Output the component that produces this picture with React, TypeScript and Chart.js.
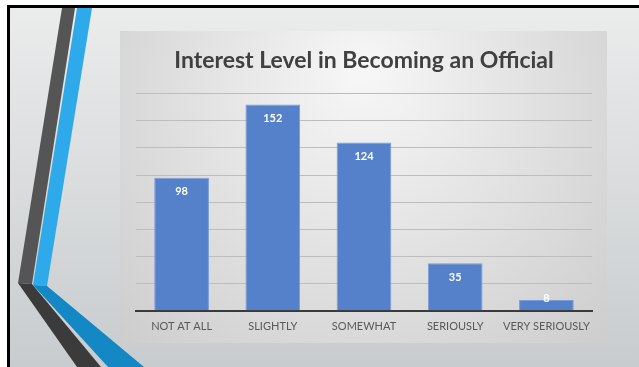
import React, { useEffect, useRef } from "react";
import { Chart, registerables } from "chart.js";

Chart.register(...registerables);

const categories = ["NOT AT ALL", "SLIGHTLY", "SOMEWHAT", "SERIOUSLY", "VERY SERIOUSLY"];
const values = [98, 152, 124, 35, 8];
const titleText = "Interest Level in Becoming an Official";
const yMax = 160;
const yStep = 20;

const W = 639;
const H = 367;

const backgroundPlugin = {
  id: "slideBackground",
  beforeDraw(chart: any) {
    const ctx = chart.ctx;
    ctx.save();
    ctx.fillStyle = "#ffffff";
    ctx.fillRect(0, 0, W, H);
    const g = ctx.createLinearGradient(0, 7, 0, H);
    g.addColorStop(0, "#ebecec");
    g.addColorStop(1, "#c8ccce");
    ctx.fillStyle = g;
    ctx.fillRect(9, 7, W - 9, H - 7);
    ctx.fillStyle = "#000000";
    ctx.fillRect(7, 5, W - 7, 3);
    ctx.fillRect(7, 5, 3, H - 5);

    const poly = (pts: number[][], color: string) => {
      ctx.beginPath();
      ctx.moveTo(pts[0][0], pts[0][1]);
      for (let i = 1; i < pts.length; i++) ctx.lineTo(pts[i][0], pts[i][1]);
      ctx.closePath();
      ctx.fillStyle = color;
      ctx.fill();
    };
    poly([[62, 8], [75, 8], [32, 284], [18, 283]], "#555555");
    poly([[18, 283], [32, 284], [101, H], [77, H]], "#3b3b3b");
    poly([[77, 8], [92, 8], [47, 286], [33, 285]], "#2eaaea");
    poly([[33, 285], [47, 286], [144, H], [108, H]], "#1487c5");

    const bx = 120, by = 31, bw = 487, bh = 312;
    const rg = ctx.createRadialGradient(363, 70, 10, 363, 120, 330);
    rg.addColorStop(0, "#f6f6f6");
    rg.addColorStop(1, "#cdcdcd");
    ctx.fillStyle = rg;
    ctx.fillRect(bx, by, bw, bh);
    ctx.restore();
  },
};

const labelPlugin = {
  id: "barLabels",
  afterDatasetsDraw(chart: any) {
    const ctx = chart.ctx;
    const meta = chart.getDatasetMeta(0);
    ctx.save();
    ctx.fillStyle = "#ffffff";
    ctx.font = "bold 11px Lato, 'DejaVu Sans', sans-serif";
    ctx.textAlign = "center";
    ctx.textBaseline = "middle";
    meta.data.forEach((el: any, i: number) => {
      const h = el.base - el.y;
      const y = h >= 24 ? el.y + 14 : el.y - 1;
      ctx.fillText(String(values[i]), el.x, y);
    });
    ctx.restore();
  },
};

export default function App() {
  const ref = useRef<HTMLCanvasElement | null>(null);
  useEffect(() => {
    document.body.style.margin = "0";
    const canvas = ref.current!;
    const chart = new Chart(canvas, {
      type: "bar",
      data: {
        labels: categories,
        datasets: [
          {
            data: values,
            backgroundColor: "#5580ca",
            borderColor: "#7a9bd8",
            borderWidth: 1,
            barPercentage: 0.6,
            categoryPercentage: 1,
          },
        ],
      },
      options: {
        animation: false,
        responsive: false,
        devicePixelRatio: 1,
        layout: { padding: { left: 136, right: 47, top: 0, bottom: 25 } },
        plugins: {
          legend: { display: false },
          tooltip: { enabled: false },
          title: {
            display: true,
            text: titleText,
            color: "#404040",
            font: { family: "Lato, 'DejaVu Sans', sans-serif", size: 23, weight: "bold", lineHeight: 1.2 },
            padding: { top: 47, bottom: 19 },
          },
        },
        scales: {
          x: {
            grid: { display: false, drawTicks: false },
            border: { display: true, color: "#3a3a3a", width: 2 },
            ticks: {
              color: "#595959",
              padding: 9,
              maxRotation: 0,
              font: { family: "Lato, 'DejaVu Sans', sans-serif", size: 11 },
            },
          },
          y: {
            min: 0,
            max: yMax,
            grid: { color: "#bdbdbd", lineWidth: 1, drawTicks: false },
            border: { display: false },
            ticks: { display: false, stepSize: yStep },
          },
        },
      },
      plugins: [backgroundPlugin, labelPlugin],
    });
    return () => chart.destroy();
  }, []);
  return (
    <div style={{ width: W, height: H, position: "relative" }}>
      <canvas ref={ref} width={W} height={H} style={{ display: "block" }} />
    </div>
  );
}
